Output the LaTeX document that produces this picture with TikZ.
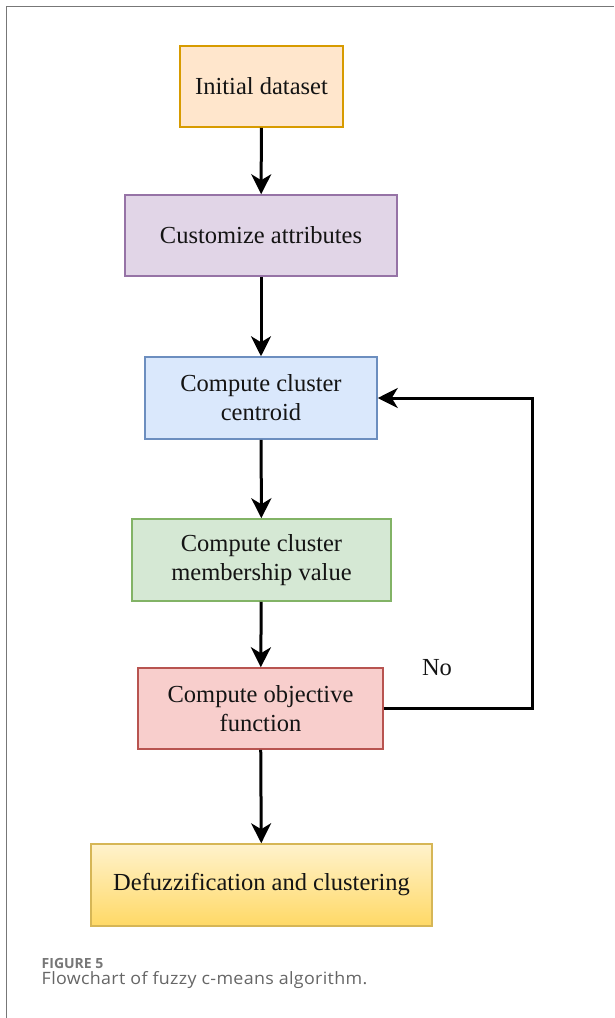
\documentclass[tikz,border=0pt]{standalone}
\usepackage{fontspec}
\setmainfont{Liberation Serif}
\newfontfamily\capfont[FakeStretch=1.05, LetterSpace=2]{Open Sans}
\newfontfamily\capfonthead{Open Sans}
\usetikzlibrary{arrows.meta}
\definecolor{orF}{HTML}{FFE6CC}\definecolor{orD}{HTML}{D79B00}
\definecolor{puF}{HTML}{E1D5E7}\definecolor{puD}{HTML}{9673A6}
\definecolor{blF}{HTML}{DAE8FC}\definecolor{blD}{HTML}{6C8EBF}
\definecolor{grF}{HTML}{D5E8D4}\definecolor{grD}{HTML}{82B366}
\definecolor{reF}{HTML}{F8CECC}\definecolor{reD}{HTML}{B85450}
\definecolor{yeT}{HTML}{FFF2CC}\definecolor{yeB}{HTML}{FFD966}\definecolor{yeD}{HTML}{D6B656}
\definecolor{capgray}{HTML}{666666}
\definecolor{headgray}{HTML}{777777}
\definecolor{framegray}{HTML}{777777}
\begin{document}
\begin{tikzpicture}[x=1pt,y=-1pt,
  box/.style={draw, line width=1.5pt, inner sep=0pt, align=center,
    font=\fontsize{24.5}{29}\selectfont, text=black!92},
  arr/.style={line width=3pt, -{Stealth[length=20pt,width=20pt,inset=6pt]}},
  captext/.style={anchor=base west, inner sep=0pt}]
\useasboundingbox (0,0) rectangle (614,1018);
\fill[white] (0,0) rectangle (614,1018);
\draw[framegray, line width=1.4pt] (614,6.7) -- (6.7,6.7) -- (6.7,1018);

\node[box, fill=orF, draw=orD, minimum width=163pt, minimum height=81pt] (n1) at (261.5,86.5) {Initial dataset};
\node[box, fill=puF, draw=puD, minimum width=272pt, minimum height=81pt] (n2) at (261,235.5) {Customize attributes};
\node[box, fill=blF, draw=blD, minimum width=232pt, minimum height=82pt] (n3) at (261,398) {Compute cluster\\centroid};
\node[box, fill=grF, draw=grD, minimum width=259pt, minimum height=82pt] (n4) at (261.5,560) {Compute cluster\\membership value};
\node[box, fill=reF, draw=reD, minimum width=245pt, minimum height=81pt] (n5) at (260.5,708.5) {Compute objective\\function};
\node[box, top color=yeT, bottom color=yeB, draw=yeD, minimum width=341pt, minimum height=82pt] (n6) at (261.5,885) {Defuzzification and clustering};

\node[font=\fontsize{24.5}{29}\selectfont, text=black!92, inner sep=0pt] (no) at (437,668) {No};

\coordinate (c1) at (532,708.5);
\coordinate (c2) at (532,398);

\draw[arr] (n1) -- (n2);
\draw[arr] (n2) -- (n3);
\draw[arr] (n3) -- (n4);
\draw[arr] (n4) -- (n5);
\draw[arr] (n5) -- (n6);
\draw[arr] (n5.east) -- (c1) -- (c2) -- (n3.east);

\node[captext, text=headgray, font=\capfonthead\bfseries\fontsize{14}{16}\selectfont] (fig) at (41.5,968) {FIGURE 5};
\node[captext, text=capgray, font=\capfont\fontsize{17}{18}\selectfont] (cap) at (41.5,984) {Flowchart of fuzzy c-means algorithm.};
\end{tikzpicture}
\end{document}
